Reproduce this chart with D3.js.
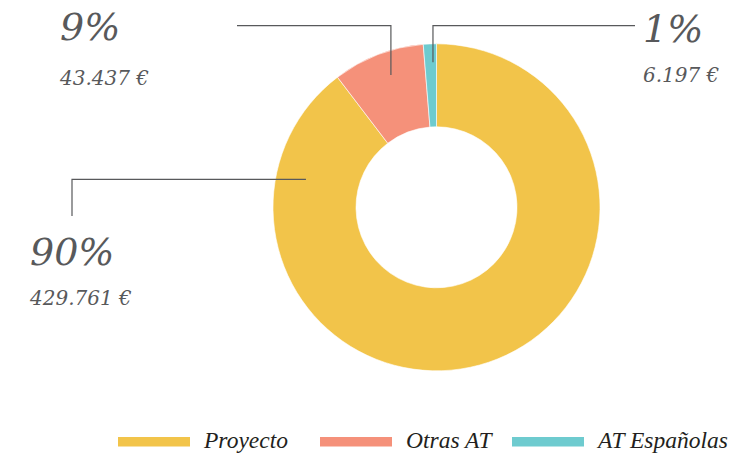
<!DOCTYPE html>
<html><head><meta charset="utf-8">
<script src="https://cdn.jsdelivr.net/npm/d3@7"></script>
<style>
html,body{margin:0;padding:0;background:#fff;}
svg{display:block;}
</style></head>
<body>
<svg id="chart" width="735" height="455"></svg>
<script>
const categories = ["Proyecto", "Otras AT", "AT Españolas"];
const values = [429761, 43437, 6197];
const pctLabels = ["90%", "9%", "1%"];
const amountLabels = ["429.761 €", "43.437 €", "6.197 €"];
const colors = ["#F2C44A", "#F5917A", "#6ECBCF"];

const W = 735, H = 455;
const cx = 436.5, cy = 207.3, rOuter = 163.5, rInner = 80.5;
const svg = d3.select("#chart");
const g = svg.append("g").attr("transform", `translate(${cx},${cy})`);

const data = categories.map((c, i) => ({ cat: c, value: values[i], i }));
const pie = d3.pie().sort(null).value(d => d.value);
const arcs = pie(data);
const arc = d3.arc().innerRadius(rInner).outerRadius(rOuter);

g.selectAll("path.slice").data(arcs).enter().append("path")
  .attr("class", "slice")
  .attr("d", arc)
  .attr("fill", d => colors[d.data.i])
  .attr("stroke", "#fff").attr("stroke-width", 0.6);

// label layout: anchor angle offset inside slice (fraction), anchor radius, elbow & text positions
const layout = [
  { frac: 0.874, r: 133.5, elbowX: 72, endY: 216, tx: 30, ty: 265, ay: 305, side: "down" },
  { frac: 0.56, r: 140, elbowX: 237, elbowY: 25.7, tx: 60, ty: 40, ay: 85, side: "left" },
  { frac: 0.7, r: 145, elbowX: 635, elbowY: 25.7, tx: 643, ty: 42, ay: 82, side: "right" }
];

const lineColor = "#58595B";
arcs.forEach((a, k) => {
  const L = layout[k];
  const ang = a.startAngle + (a.endAngle - a.startAngle) * L.frac;
  const ax = L.r * Math.sin(ang) + cx;
  const ay = -L.r * Math.cos(ang) + cy;
  let pts;
  if (L.side === "down") {
    pts = [[ax, ay], [L.elbowX, ay], [L.elbowX, L.endY]];
  } else {
    pts = [[ax, ay], [ax, L.elbowY], [L.elbowX, L.elbowY]];
  }
  svg.append("path")
    .attr("d", d3.line()(pts))
    .attr("fill", "none").attr("stroke", lineColor).attr("stroke-width", 1.2);

  svg.append("text")
    .attr("x", L.tx).attr("y", L.ty)
    .attr("font-family", "DejaVu Serif").attr("font-style", "italic")
    .attr("font-size", 38).attr("fill", "#58595B")
    .text(pctLabels[k]);
  svg.append("text")
    .attr("x", L.tx).attr("y", L.ay)
    .attr("font-family", "DejaVu Serif").attr("font-style", "italic")
    .attr("font-size", 20).attr("fill", "#58595B")
    .text(amountLabels[k]);
});

// legend
const legendX = [118, 320, 512];
const leg = svg.append("g");
categories.forEach((c, i) => {
  leg.append("rect").attr("x", legendX[i]).attr("y", 437).attr("width", 72).attr("height", 9.5)
    .attr("fill", colors[i]);
  leg.append("text").attr("x", legendX[i] + 86).attr("y", 448)
    .attr("font-family", "Liberation Serif").attr("font-style", "italic")
    .attr("font-size", 23.5).attr("fill", "#231F20")
    .text(c);
});
</script>
</body></html>
